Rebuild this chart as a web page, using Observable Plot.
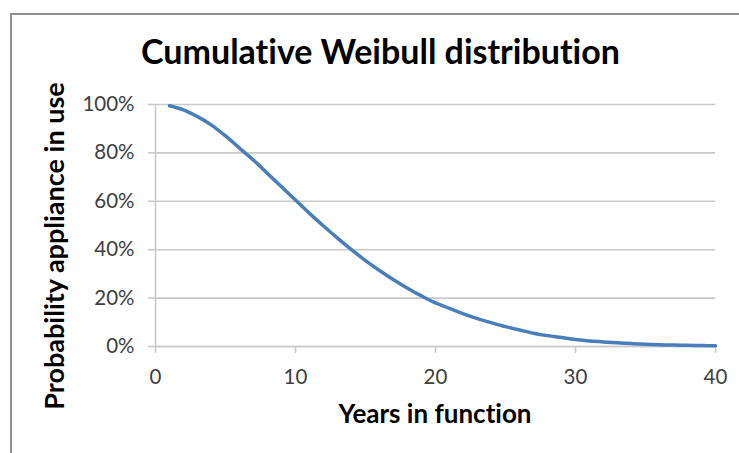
<!DOCTYPE html>
<html>
<head>
<meta charset="utf-8">
<script src="https://cdn.jsdelivr.net/npm/d3@7"></script>
<script src="https://cdn.jsdelivr.net/npm/@observablehq/plot@0.6"></script>
<style>
  html, body { margin: 0; padding: 0; background: #fff; }
  #wrap { position: relative; width: 739px; height: 453px; overflow: hidden; font-family: Lato, "Open Sans", sans-serif; font-variant-ligatures: none; }
  #frame { position: absolute; left: 10px; top: 13px; right: -10px; bottom: -10px; border-left: 2px solid #8e8e8e; border-top: 2px solid #8e8e8e; }
  #chart { position: absolute; left: 0; top: 0; }
  .ttl { position: absolute; white-space: nowrap; font-weight: bold; color: #000; line-height: 1; font-variant-ligatures: none; }
  #title { left: 0; width: 761px; top: 34px; text-align: center; font-size: 34px; }
  #xtitle { left: 155px; width: 560px; top: 400px; text-align: center; font-size: 26px; }
  #ytitle { left: 53px; top: 246px; font-size: 27px; transform: translate(-50%, -50%) rotate(-90deg); }
  svg text { font-variant-ligatures: none; }
</style>
</head>
<body>
<div id="wrap">
  <div id="frame"></div>
  <div id="chart"></div>
  <div class="ttl" id="title">Cumulative Weibull distribution</div>
  <div class="ttl" id="xtitle">Years in function</div>
  <div class="ttl" id="ytitle">Probability appliance in use</div>
</div>
<script>
// Years in function (x) and probability that the appliance is still in use (y)
const years = [1,2,3,4,5,6,7,8,9,10,11,12,13,14,15,16,17,18,19,20,
               21,22,23,24,25,26,27,28,29,30,31,32,33,34,35,36,37,38,39,40];
const inUse = [0.995,0.978,0.950,0.915,0.870,0.820,0.770,0.715,0.660,0.605,
               0.550,0.498,0.448,0.400,0.355,0.314,0.276,0.241,0.209,0.180,
               0.158,0.135,0.115,0.098,0.082,0.068,0.055,0.045,0.037,0.029,
               0.023,0.019,0.015,0.012,0.009,0.007,0.006,0.005,0.004,0.003];
const xTicks = [0, 10, 20, 30, 40];
const yTicks = [0, 0.2, 0.4, 0.6, 0.8, 1.0];

const data = years.map((t, i) => ({t, p: inUse[i]}));
const axisGrey = "#c9c9c9";

const chart = Plot.plot({
  width: 739,
  height: 453,
  marginLeft: 155,
  marginRight: 24,
  marginTop: 104,
  marginBottom: 107,
  style: {fontFamily: "Lato, 'Open Sans', sans-serif", fontSize: "20.5px", background: "transparent", overflow: "visible"},
  x: {domain: [0, 40], ticks: xTicks},
  y: {domain: [0, 1], ticks: yTicks, tickFormat: d3.format(".0%")},
  marks: [
    Plot.gridY(yTicks, {stroke: axisGrey, strokeOpacity: 1, strokeWidth: 1.6}),
    Plot.ruleX([0], {stroke: axisGrey, strokeWidth: 1.6}),
    Plot.ruleY([0], {stroke: axisGrey, strokeWidth: 1.6}),
    Plot.axisY(yTicks, {tickSize: 7, tickPadding: 14, stroke: axisGrey, strokeWidth: 1.6, fill: "#404040", tickFormat: d3.format(".0%"), label: null}),
    Plot.axisX(xTicks, {tickSize: 7, tickPadding: 16, stroke: axisGrey, strokeWidth: 1.6, fill: "#404040", label: null}),
    Plot.line(data, {x: "t", y: "p", stroke: "#4A7EBB", strokeWidth: 3.5, curve: "catmull-rom"})
  ]
});
document.getElementById("chart").appendChild(chart);
</script>
</body>
</html>
